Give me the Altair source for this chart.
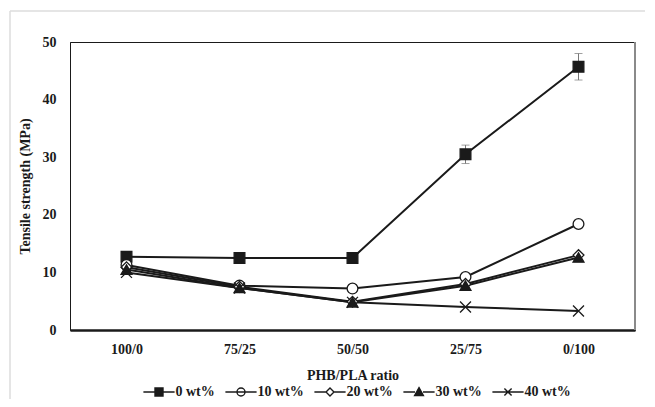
import altair as alt
import pandas as pd

ratios = ["100/0", "75/25", "50/50", "25/75", "0/100"]
series = ["0 wt%", "10 wt%", "20 wt%", "30 wt%", "40 wt%"]
s0 = [12.7, 12.5, 12.5, 30.5, 45.7]
s10 = [11.3, 7.7, 7.2, 9.2, 18.4]
s20 = [10.9, 7.5, 4.9, 8.0, 13.0]
s30 = [10.5, 7.3, 4.8, 7.7, 12.6]
s40 = [10.0, 7.3, 4.8, 4.0, 3.3]
err0 = [0.0, 0.0, 0.0, 1.6, 2.3]
y_ticks = [0, 10, 20, 30, 40, 50]

rows = []
for name, vals in zip(series, [s0, s10, s20, s30, s40]):
    for i, (r, v) in enumerate(zip(ratios, vals)):
        e = err0[i] if name == "0 wt%" else 0.0
        rows.append({"ratio": r, "series": name, "ts": v, "lo": v - e, "hi": v + e})
df = pd.DataFrame(rows)
df_err = df[df["hi"] > df["lo"]]

FONT = "Liberation Serif"
INK = "#1a1a1a"

xscale = alt.Scale(type="point", padding=0.5)
xenc = alt.X("ratio:N", sort=ratios, scale=xscale,
             axis=alt.Axis(title="PHB/PLA ratio", labelAngle=0, ticks=False, domain=True,
                           domainWidth=2.5, domainColor=INK, labelPadding=12, titlePadding=12))
yscale = alt.Scale(domain=[0, 50])
yenc = alt.Y("ts:Q", scale=yscale,
             axis=alt.Axis(title="Tensile strength (MPa)", values=y_ticks, ticks=False, grid=False,
                           domainColor=INK, domainWidth=1, labelPadding=14, titlePadding=10))

base = alt.Chart(df)

lines = base.mark_line(color=INK, strokeWidth=2).encode(
    x=xenc, y=yenc, detail="series:N"
)

err = alt.Chart(df_err).mark_errorbar(ticks=alt.TickConfig(size=8, color="#777777"), color="#777777", thickness=1).encode(
    x=alt.X("ratio:N", sort=ratios, scale=xscale),
    y=alt.Y("lo:Q", scale=yscale, title="Tensile strength (MPa)"),
    y2="hi:Q",
)

plot_shapes = ["square", "circle", "diamond", "triangle-up", "M-1,-1L1,1M1,-1L-1,1"]
fills = [INK, "white", "white", INK, "white"]
strokes = [INK, INK, INK, INK, INK]
sizes = [115, 120, 90, 115, 130]

pts = base.mark_point(filled=True, stroke=INK, strokeWidth=1.3, opacity=1).encode(
    x=alt.X("ratio:N", sort=ratios, scale=xscale),
    y=alt.Y("ts:Q", scale=yscale),
    shape=alt.Shape("series:N", sort=series, scale=alt.Scale(domain=series, range=plot_shapes), legend=None),
    fill=alt.Fill("series:N", sort=series, scale=alt.Scale(domain=series, range=fills), legend=None),
    size=alt.Size("series:N", sort=series, scale=alt.Scale(domain=series, range=sizes), legend=None),
)

stub = "M-3.9,0H-1M1,0H3.9"
leg_shapes = [
    stub + "M-1,-1H1V1H-1Z",
    "M-3.9,0H3.9M1,0A1,1 0 1,1 -1,0A1,1 0 1,1 1,0Z",
    stub + "M0,-1L1,0L0,1L-1,0Z",
    stub + "M0,-1.1L1.1,0.9H-1.1Z",
    "M-3.9,0H3.9M-0.9,-0.9L0.9,0.9M0.9,-0.9L-0.9,0.9",
]
leg = alt.Legend(title=None, orient="none", legendX=82, legendY=343, direction="horizontal",
                 symbolOpacity=1, symbolSize=64, symbolStrokeWidth=1.4,
                 labelOffset=9.5, columnPadding=7, labelFont=FONT, labelFontSize=14,
                 labelFontWeight="bold", labelColor=INK)
legpts = base.mark_point(filled=True, strokeWidth=1.4, opacity=0, size=64).encode(
    x=alt.X("ratio:N", sort=ratios, scale=xscale),
    y=alt.Y("ts:Q", scale=yscale),
    shape=alt.Shape("series:N", sort=series, scale=alt.Scale(domain=series, range=leg_shapes), legend=leg),
    fill=alt.Fill("series:N", sort=series, scale=alt.Scale(domain=series, range=fills), legend=leg),
    stroke=alt.Stroke("series:N", sort=series, scale=alt.Scale(domain=series, range=strokes), legend=leg),
)

frame_df = pd.DataFrame({"k": [0]})
right_border = alt.Chart(frame_df).mark_rule(color="#8a8a8a", strokeWidth=2).encode(
    x=alt.value(565), y=alt.value(0), y2=alt.value(288)
)
outer_left = alt.Chart(frame_df).mark_rule(color="#dddddd", strokeWidth=1.5).encode(
    x=alt.value(-60), y=alt.value(-31), y2=alt.value(360)
)
outer_top = alt.Chart(frame_df).mark_rule(color="#dddddd", strokeWidth=1.5).encode(
    x=alt.value(-60), x2=alt.value(580), y=alt.value(-31)
)

chart = alt.layer(outer_left, outer_top, lines, err, pts, legpts, right_border).resolve_scale(
    shape="independent", fill="independent", size="independent", stroke="independent"
).properties(
    width=565, height=288,
    background="white",
    autosize=alt.AutoSizeParams(type="none"),
    padding={"left": 62, "top": 34, "right": 10, "bottom": 69},
).configure_view(
    stroke=INK, strokeWidth=1
).configure_axis(
    labelFont=FONT, labelFontSize=14, labelFontWeight="bold", labelColor=INK,
    titleFont=FONT, titleFontSize=14, titleFontWeight="bold", titleColor=INK,
)

chart.save("out.html", embed_options={"renderer": "svg", "actions": False})
